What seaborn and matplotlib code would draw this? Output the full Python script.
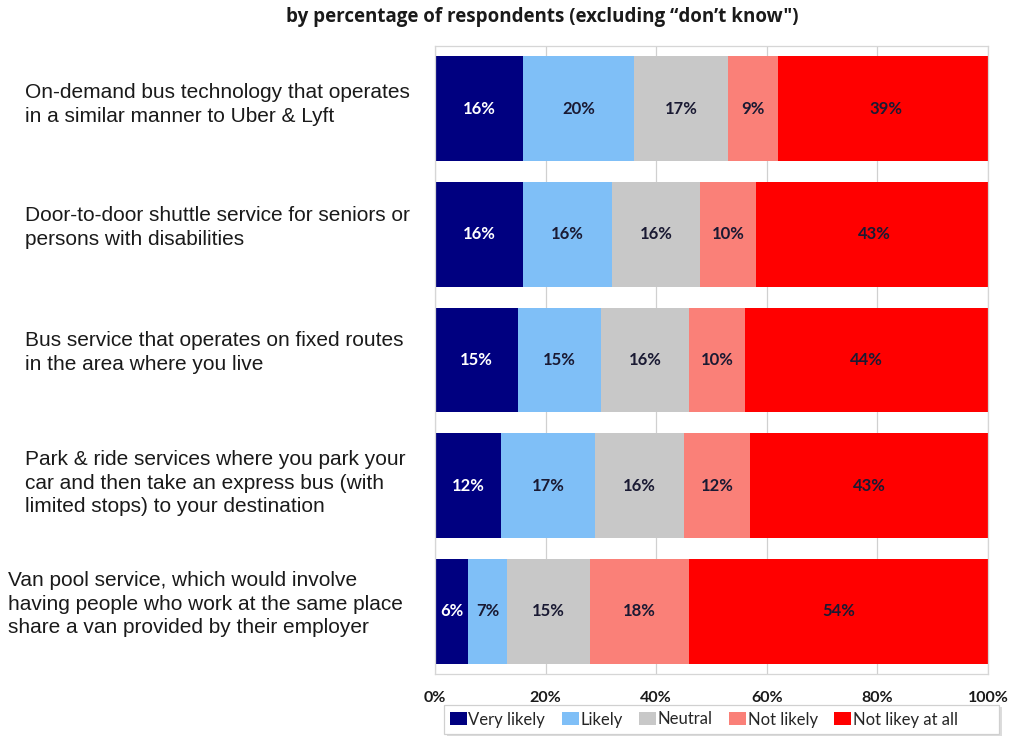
import matplotlib
matplotlib.use("Agg")
import matplotlib.pyplot as plt
from matplotlib.patches import Rectangle
import seaborn as sns
import numpy as np
import pandas as pd

# Survey items (rows, top to bottom)
items = [
    "On-demand bus technology that operates\nin a similar manner to Uber & Lyft",
    "Door-to-door shuttle service for seniors or\npersons with disabilities",
    "Bus service that operates on fixed routes\nin the area where you live",
    "Park & ride services where you park your\ncar and then take an express bus (with\nlimited stops) to your destination",
    "Van pool service, which would involve\nhaving people who work at the same place\nshare a van provided by their employer",
]

# Response categories
responses = ["Very likely", "Likely", "Neutral", "Not likely", "Not likey at all"]

# Percentages per response category, one value per item
very_likely = [16, 16, 15, 12, 6]
likely = [20, 16, 15, 17, 7]
neutral = [17, 16, 16, 16, 15]
not_likely = [9, 10, 10, 12, 18]
not_likely_at_all = [39, 43, 44, 43, 54]

xtick_labels = ["0%", "20%", "40%", "60%", "80%", "100%"]

series = [very_likely, likely, neutral, not_likely, not_likely_at_all]
colors = ["#000080", "#7fbff7", "#c8c8c8", "#fa8078", "#ff0000"]
label_colors = ["white", "#1a1a33", "#1a1a33", "#1a1a33", "#1a1a33"]

sns.set_theme(style="white")
plt.rcParams["font.family"] = ["Lato", "DejaVu Sans"]

fig = plt.figure(figsize=(10.13, 7.41), dpi=100)
ax = fig.add_axes([435 / 1013, 1 - 674 / 741, 553 / 1013, 628 / 741])

ids = [f"r{i}" for i in range(len(items))]
vals = np.array(series, dtype=float)
cum = np.cumsum(vals, axis=0)

# Stacked bars: draw cumulative totals from the outermost segment inward
for k in range(len(responses) - 1, -1, -1):
    df = pd.DataFrame({"item": ids, "value": cum[k]})
    sns.barplot(data=df, x="value", y="item", orient="h", color=colors[k],
                width=0.835, saturation=1, ax=ax, zorder=2, linewidth=0,
                label=responses[k])
if ax.get_legend() is not None:
    ax.get_legend().remove()

# Segment labels
for k in range(len(responses)):
    for i in range(len(items)):
        start = cum[k][i] - vals[k][i]
        ax.text(start + vals[k][i] / 2, i, f"{int(vals[k][i])}%",
                ha="center", va="center", fontsize=12, fontweight="bold",
                color=label_colors[k], zorder=3)

ax.set_xlim(0, 100)
ax.set_ylim(len(items) - 0.5, -0.5)
ax.set_xticks([0, 20, 40, 60, 80, 100])
ax.set_xticklabels(xtick_labels, fontsize=11.5, fontweight="bold", color="#1a1a1a")
ax.tick_params(axis="x", length=0, pad=12)
ax.set_yticks([])
ax.set_xlabel("")
ax.set_ylabel("")
ax.xaxis.grid(True, color="#d0d0d0", linewidth=0.9, zorder=0)
ax.set_axisbelow(True)
for sp in ax.spines.values():
    sp.set_color("#d6d6d6")
    sp.set_linewidth(0.9)

# Row descriptions on the left
label_pos = [(25, 104.5), (25, 227.5), (25, 352.5), (25, 483), (8, 604)]
for text, (px, py) in zip(items, label_pos):
    fig.text(px / 1013, 1 - py / 741, text, ha="left", va="center",
             fontsize=15, family=["Liberation Sans", "DejaVu Sans"],
             color="#1a1a1a", linespacing=1.27)

# Title
fig.text(542 / 1013, 1 - 17 / 741,
         "by percentage of respondents (excluding \u201cdon\u2019t know\")",
         ha="center", va="center", fontsize=13.5, fontweight="bold",
         family=["Open Sans", "DejaVu Sans"], color="#1a1a1a")

# Legend box with a soft shadow
fig.patches.append(Rectangle((447 / 1013, 1 - 736 / 741), 555 / 1013, 29 / 741,
                             transform=fig.transFigure, facecolor="#dcdcdc",
                             edgecolor="none", zorder=1))
fig.patches.append(Rectangle((444 / 1013, 1 - 734 / 741), 555 / 1013, 29 / 741,
                             transform=fig.transFigure, facecolor="white",
                             edgecolor="#d0d0d0", linewidth=0.9, zorder=2))

# Legend in response order
handles, labels = ax.get_legend_handles_labels()
order = [labels.index(r) for r in responses]
leg = fig.legend([handles[j] for j in order], [labels[j] for j in order],
                 loc="center left", bbox_to_anchor=(450 / 1013, 1 - 719.5 / 741),
                 ncol=5, frameon=False, fontsize=12,
                 handlelength=1.0, handleheight=0.8, handletextpad=0.1,
                 columnspacing=1.0, borderpad=0.0, borderaxespad=0)
leg.set_zorder(3)

fig.savefig("out.png", dpi=100, facecolor="white")
